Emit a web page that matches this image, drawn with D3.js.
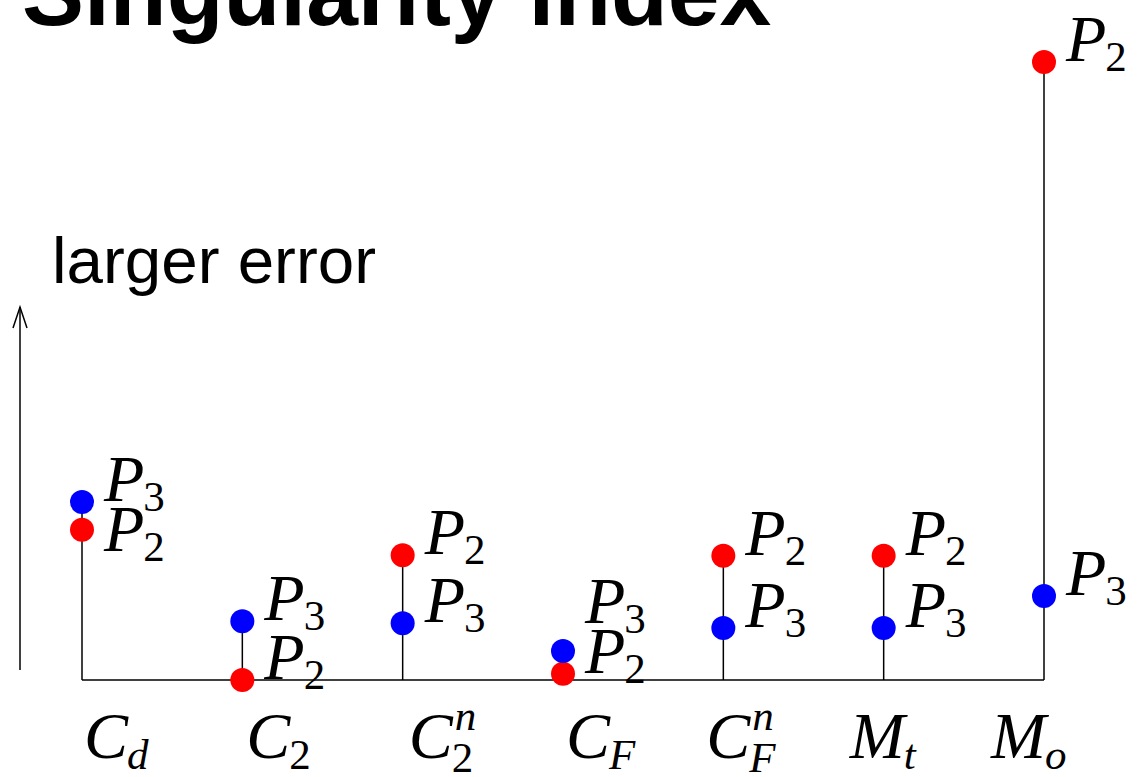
<!DOCTYPE html>
<html>
<head>
<meta charset="utf-8">
<script src="https://cdn.jsdelivr.net/npm/d3@7"></script>
<style>
  html, body { margin: 0; padding: 0; background: #fff; }
  svg { display: block; }
  .math { font-family: "Liberation Serif", "DejaVu Serif", serif; }
</style>
</head>
<body>
<svg id="chart" width="1138" height="777"></svg>
<script>
// Singularity index per quantity, for the two polynomial orders
const categories = ["Cd", "C2", "C2n", "CF", "CFn", "Mt", "Mo"];
const catBase = ["C", "C", "C", "C", "C", "M", "M"];
const catSub  = ["d", "2", "2", "F", "F", "t", "o"];
const catSup  = ["", "", "n", "", "n", "", ""];
const p2Values = [24.3, 0, 20.2, 1.0, 20.1, 20.1, 100];
const p3Values = [28.8, 9.5, 9.2, 4.7, 8.4, 8.4, 13.6];
const seriesNames = ["2", "3"];          // subscripts of P
const seriesColors = ["#ff0000", "#0000ff"];

// horizontal placement of each category label relative to its stem
const labelShift = [2, 4, 6, 3, -17, -34, -53];

const svg = d3.select("#chart");
const baseY = 680;

const x = d3.scalePoint().domain(categories).range([82, 1044]);
const y = d3.scaleLinear().domain([0, 100]).range([baseY, 62]);

// Title (partly above the top edge)
svg.append("text")
  .attr("x", 22).attr("y", 25)
  .attr("font-family", "Liberation Sans, Arial, sans-serif")
  .attr("font-weight", "bold")
  .attr("font-size", 93)
  .text("Singularity index");

// "larger error" arrow
svg.append("text")
  .attr("x", 52).attr("y", 283)
  .attr("font-family", "Liberation Sans, Arial, sans-serif")
  .attr("font-size", 65.5)
  .text("larger error");

const arrow = svg.append("g").attr("stroke", "#000").attr("stroke-width", 1.5).attr("fill", "none");
arrow.append("line").attr("x1", 20).attr("x2", 20).attr("y1", 670).attr("y2", 307);
arrow.append("path").attr("d", "M13,328 L20,307 L27,328");

// baseline
svg.append("line")
  .attr("x1", x(categories[0])).attr("x2", x(categories[categories.length - 1]))
  .attr("y1", baseY).attr("y2", baseY)
  .attr("stroke", "#000").attr("stroke-width", 1.5);

const rows = categories.map((c, i) => ({
  cat: c, i,
  vals: [p2Values[i], p3Values[i]]
}));

// stems
svg.append("g").selectAll("line").data(rows).join("line")
  .attr("x1", d => x(d.cat)).attr("x2", d => x(d.cat))
  .attr("y1", baseY)
  .attr("y2", d => y(d3.max(d.vals)))
  .attr("stroke", "#000").attr("stroke-width", 1.5);

// dots
const dots = [];
rows.forEach(r => r.vals.forEach((v, s) => dots.push({ cat: r.cat, i: r.i, s, v })));
svg.append("g").selectAll("circle").data(dots).join("circle")
  .attr("cx", d => x(d.cat))
  .attr("cy", d => y(d.v))
  .attr("r", 12)
  .attr("fill", d => seriesColors[d.s]);

// math label helper: italic base letter with upright/italic sub and sup
function mathLabel(g, tx, ty, base, sub, sup, size, subSize, subDy, supDy) {
  const t = g.append("text").attr("class", "math")
    .attr("x", tx).attr("y", ty)
    .attr("font-size", size).attr("font-style", "italic").text(base);
  const w = t.node().getComputedTextLength();
  const isDigit = s => /^[0-9]+$/.test(s);
  if (sub) {
    g.append("text").attr("class", "math")
      .attr("x", tx + w - 1).attr("y", ty + subDy)
      .attr("font-size", subSize)
      .attr("font-style", isDigit(sub) ? "normal" : "italic")
      .text(sub);
  }
  if (sup) {
    g.append("text").attr("class", "math")
      .attr("x", tx + w + 2).attr("y", ty + supDy)
      .attr("font-size", subSize)
      .attr("font-style", isDigit(sup) ? "normal" : "italic")
      .text(sup);
  }
}

// point labels, spread apart when two dots sit close together
const minGap = 50;
const pointLabels = svg.append("g");
rows.forEach(r => {
  const items = r.vals.map((v, s) => ({ s, y: y(v) - 1 }));
  items.sort((a, b) => a.y - b.y);
  const [up, lo] = items;
  if (lo.y - up.y < minGap) {
    if (up.y + minGap <= baseY) lo.y = up.y + minGap;
    else up.y = lo.y - minGap;
  }
  items.forEach(it => {
    mathLabel(pointLabels, x(r.cat) + 22, it.y, "P", seriesNames[it.s], "",
      66, 43, 10, 0);
  });
});

// category labels
const catLabels = svg.append("g");
rows.forEach(r => {
  const hasSup = catSup[r.i] !== "";
  mathLabel(catLabels, x(r.cat) + labelShift[r.i], 758,
    catBase[r.i], catSub[r.i], catSup[r.i],
    66, 43, hasSup ? 14 : 11, -28);
});
</script>
</body>
</html>
